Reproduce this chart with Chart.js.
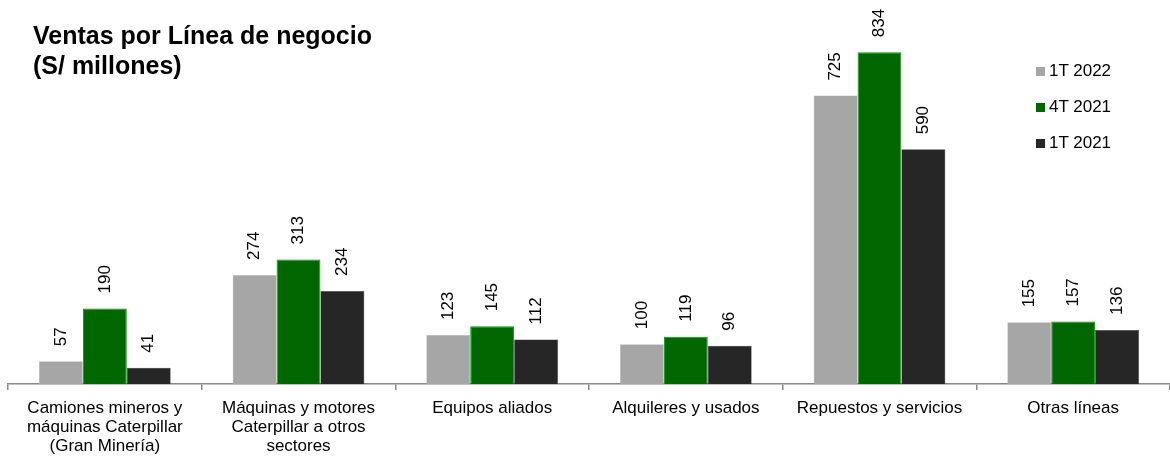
<!DOCTYPE html>
<html>
<head>
<meta charset="utf-8">
<script src="https://cdn.jsdelivr.net/npm/chart.js@4/dist/chart.umd.min.js"></script>
<style>
  html, body { margin: 0; padding: 0; background: #fff; }
  #wrap { position: relative; width: 1170px; height: 456px; font-family: Arial, "Liberation Sans", sans-serif; }
  #c { display: block; }
  #title { position: absolute; left: 33px; top: 20px; font-size: 25px; font-weight: bold; line-height: 30px; color: #000; }
  #legend { position: absolute; left: 1036px; top: 53px; font-size: 17px; color: #000; }
  #legend .item { display: flex; align-items: center; height: 36px; margin-top: 0; }
  #legend .sw { width: 9px; height: 9px; margin-right: 4px; box-sizing: border-box; }
</style>
</head>
<body>
<div id="wrap">
  <canvas id="c" width="1170" height="456"></canvas>
  <div id="title">Ventas por Línea de negocio<br>(S/ millones)</div>
  <div id="legend"></div>
</div>
<script>
const categories = [
  ["Camiones mineros y", "máquinas Caterpillar", "(Gran Minería)"],
  ["Máquinas y motores", "Caterpillar a otros", "sectores"],
  "Equipos aliados",
  "Alquileres y usados",
  "Repuestos y servicios",
  "Otras líneas"
];
const seriesNames = ["1T 2022", "4T 2021", "1T 2021"];
const values1T2022 = [57, 274, 123, 100, 725, 155];
const values4T2021 = [190, 313, 145, 119, 834, 157];
const values1T2021 = [41, 234, 112, 96, 590, 136];
const colors = ["#A6A6A6", "#006600", "#262626"];
const borders = ["#B4B4B4", "#00A000", "#3A3A3A"];

const labelPlugin = {
  id: 'vlabels',
  afterDatasetsDraw(chart) {
    const ctx = chart.ctx;
    ctx.save();
    ctx.font = '17px Arial, "Liberation Sans", sans-serif';
    ctx.fillStyle = '#000';
    ctx.textAlign = 'left';
    ctx.textBaseline = 'middle';
    chart.data.datasets.forEach((ds, i) => {
      const meta = chart.getDatasetMeta(i);
      meta.data.forEach((bar, j) => {
        ctx.save();
        ctx.translate(bar.x, bar.y - 15);
        ctx.rotate(-Math.PI / 2);
        ctx.fillText(String(ds.data[j]), 0, 0);
        ctx.restore();
      });
    });
    ctx.restore();
  }
};

const dataArrays = [values1T2022, values4T2021, values1T2021];
new Chart(document.getElementById('c'), {
  type: 'bar',
  data: {
    labels: categories,
    datasets: dataArrays.map((d, i) => ({
      label: seriesNames[i],
      data: d,
      backgroundColor: colors[i],
      borderColor: borders[i],
      borderWidth: i === 1 ? 1 : 0.5,
      barPercentage: 1.0,
      categoryPercentage: 0.68
    }))
  },
  options: {
    responsive: false,
    animation: false,
    layout: { padding: { top: 26, left: 8, right: 0, bottom: 0 } },
    plugins: { legend: { display: false }, tooltip: { enabled: false }, title: { display: false } },
    scales: {
      y: { display: false, min: 0, max: 900 },
      x: {
        afterFit: (scale) => { scale.height = 72; },
        grid: { offset: true, drawOnChartArea: false, tickLength: 6, color: '#888', lineWidth: 1.5 },
        border: { color: '#888', width: 1.5 },
        ticks: { color: '#000', padding: 9, maxRotation: 0, autoSkip: false,
                 font: { family: 'Arial, "Liberation Sans", sans-serif', size: 17, lineHeight: 1.12 } }
      }
    }
  },
  plugins: [labelPlugin]
});

const lg = document.getElementById('legend');
seriesNames.forEach((n, i) => {
  const it = document.createElement('div');
  it.className = 'item';
  const sw = document.createElement('span');
  sw.className = 'sw';
  sw.style.background = colors[i];
  const tx = document.createElement('span');
  tx.textContent = n;
  it.appendChild(sw); it.appendChild(tx);
  lg.appendChild(it);
});
</script>
</body>
</html>
